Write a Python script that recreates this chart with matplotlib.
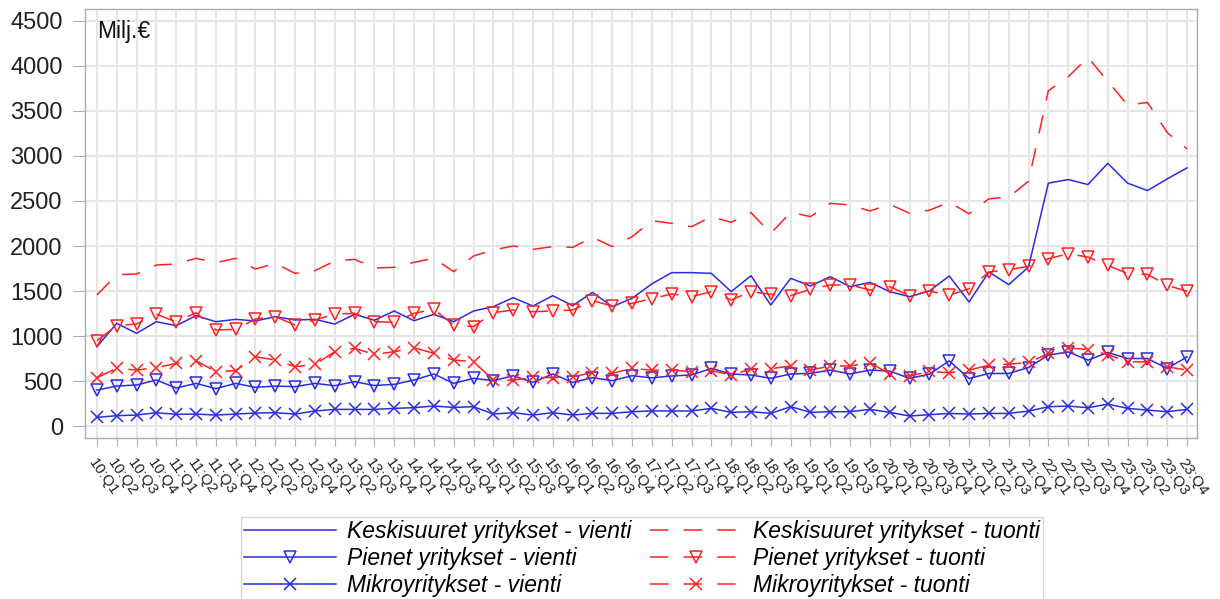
import matplotlib
matplotlib.use("Agg")
import matplotlib.pyplot as plt

plt.rcParams['font.family'] = ['Liberation Sans', 'DejaVu Sans']

quarters = [f"{y}:Q{q}" for y in range(10, 24) for q in range(1, 5)]

keski_vienti = [881, 1141, 1030, 1159, 1115, 1226, 1159, 1185, 1167, 1215, 1178, 1185,
                1133, 1241, 1175, 1278, 1170, 1241, 1159, 1278, 1326, 1426, 1333, 1448,
                1337, 1485, 1326, 1419, 1580, 1704, 1704, 1696, 1493, 1670, 1344, 1641,
                1556, 1659, 1548, 1596, 1493, 1437, 1500, 1667, 1378, 1711, 1571, 1766,
                2698, 2738, 2683, 2919, 2698, 2616, 2746, 2868]
pienet_vienti = [400, 444, 456, 511, 422, 474, 415, 474, 430, 444, 437, 474,
                 448, 493, 450, 463, 511, 578, 474, 530, 504, 559, 485, 578,
                 485, 537, 504, 559, 535, 556, 567, 640, 578, 567, 530, 578,
                 585, 622, 578, 622, 610, 530, 576, 724, 528, 584, 584, 650,
                 787, 824, 732, 817, 750, 750, 639, 769]
mikro_vienti = [96, 115, 122, 148, 130, 133, 122, 133, 144, 148, 133, 167,
                185, 185, 185, 196, 204, 222, 207, 215, 133, 148, 122, 148,
                122, 141, 141, 159, 168, 167, 167, 196, 152, 159, 141, 215,
                152, 159, 159, 185, 152, 111, 126, 140, 133, 140, 140, 166,
                214, 222, 203, 244, 196, 177, 159, 185]
keski_tuonti = [1456, 1680, 1689, 1789, 1800, 1863, 1815, 1863, 1744, 1807, 1696, 1726,
                1833, 1852, 1755, 1763, 1819, 1863, 1715, 1889, 1956, 2000, 1963, 1993,
                1985, 2096, 1993, 2104, 2281, 2252, 2215, 2326, 2263, 2370, 2141, 2374,
                2326, 2474, 2456, 2389, 2463, 2363, 2398, 2487, 2358, 2524, 2543, 2720,
                3725, 3880, 4095, 3830, 3566, 3595, 3260, 3078]
pienet_tuonti = [948, 1115, 1133, 1244, 1156, 1259, 1067, 1074, 1189, 1215, 1122, 1178,
                 1244, 1252, 1160, 1152, 1252, 1296, 1122, 1104, 1259, 1289, 1270, 1278,
                 1289, 1393, 1333, 1363, 1415, 1467, 1437, 1493, 1400, 1493, 1463, 1448,
                 1519, 1567, 1567, 1511, 1548, 1448, 1500, 1452, 1526, 1711, 1737, 1774,
                 1859, 1914, 1877, 1785, 1693, 1685, 1563, 1497]
mikro_tuonti = [537, 641, 622, 648, 696, 726, 604, 615, 770, 733, 659, 685,
                826, 863, 796, 826, 870, 807, 733, 715, 511, 511, 541, 537,
                548, 593, 585, 641, 620, 622, 604, 615, 567, 633, 637, 667,
                622, 667, 667, 704, 578, 556, 606, 591, 621, 676, 687, 706,
                806, 868, 850, 794, 713, 713, 658, 621]

labels = ["Keskisuuret yritykset - vienti", "Pienet yritykset - vienti",
          "Mikroyritykset - vienti", "Keskisuuret yritykset - tuonti",
          "Pienet yritykset - tuonti", "Mikroyritykset - tuonti"]

BLUE = '#2b2be0'
RED = '#ff2020'
DASH = (12, 10)

fig = plt.figure(figsize=(12.2, 5.99), dpi=100)
ax = fig.add_axes([85/1220, 1-438/599, 1112/1220, 429/599])

x = list(range(len(quarters)))
lw = 1.1
h = []
h.append(ax.plot(x, keski_vienti, color=BLUE, lw=lw, label=labels[0])[0])
h.append(ax.plot(x, pienet_vienti, color=BLUE, lw=lw, marker='v', ms=8,
                 mfc='none', mec=BLUE, mew=1.1, label=labels[1])[0])
h.append(ax.plot(x, mikro_vienti, color=BLUE, lw=lw, marker='x', ms=9,
                 mec=BLUE, mew=1.1, label=labels[2])[0])
h.append(ax.plot(x, keski_tuonti, color=RED, lw=lw, dashes=DASH, label=labels[3])[0])
h.append(ax.plot(x, pienet_tuonti, color=RED, lw=lw, dashes=DASH, marker='v', ms=8,
                 mfc='none', mec=RED, mew=1.1, label=labels[4])[0])
h.append(ax.plot(x, mikro_tuonti, color=RED, lw=lw, dashes=DASH, marker='x', ms=9,
                 mec=RED, mew=1.1, label=labels[5])[0])

ax.set_xlim(-0.6, 55.5)
ax.set_ylim(-133, 4633)
ax.set_yticks(range(0, 4501, 500))
ax.set_xticks(x)
ax.set_xticklabels(quarters, rotation=-55, ha='left', va='top',
                   rotation_mode='anchor', fontsize=11, color='#222222')
ax.tick_params(axis='y', labelsize=17, length=9, color='#a8adb2', labelcolor='#222222', pad=7)
ax.tick_params(axis='x', length=6, color='#a8adb2', pad=7)
ax.grid(True, color='#e6e6e6', lw=1.5)
ax.set_axisbelow(True)
for s in ax.spines.values():
    s.set_color('#a8adb2')
    s.set_linewidth(1.0)

ax.text(0.011, 0.975, 'Milj.€', transform=ax.transAxes, ha='left', va='top',
        fontsize=16.5, color='#111111')

leg = fig.legend(handles=h, loc='upper center', bbox_to_anchor=(642/1220, 1-517/599),
                 borderaxespad=0, ncol=2, frameon=True, fancybox=False, handlelength=4.0,
                 handletextpad=0.5, columnspacing=0.8, labelspacing=0.17,
                 borderpad=0.15, prop={'style': 'italic', 'size': 16.5})
leg.get_frame().set_edgecolor('#cccccc')
leg.get_frame().set_linewidth(1.0)

fig.savefig('out.png', dpi=100)
